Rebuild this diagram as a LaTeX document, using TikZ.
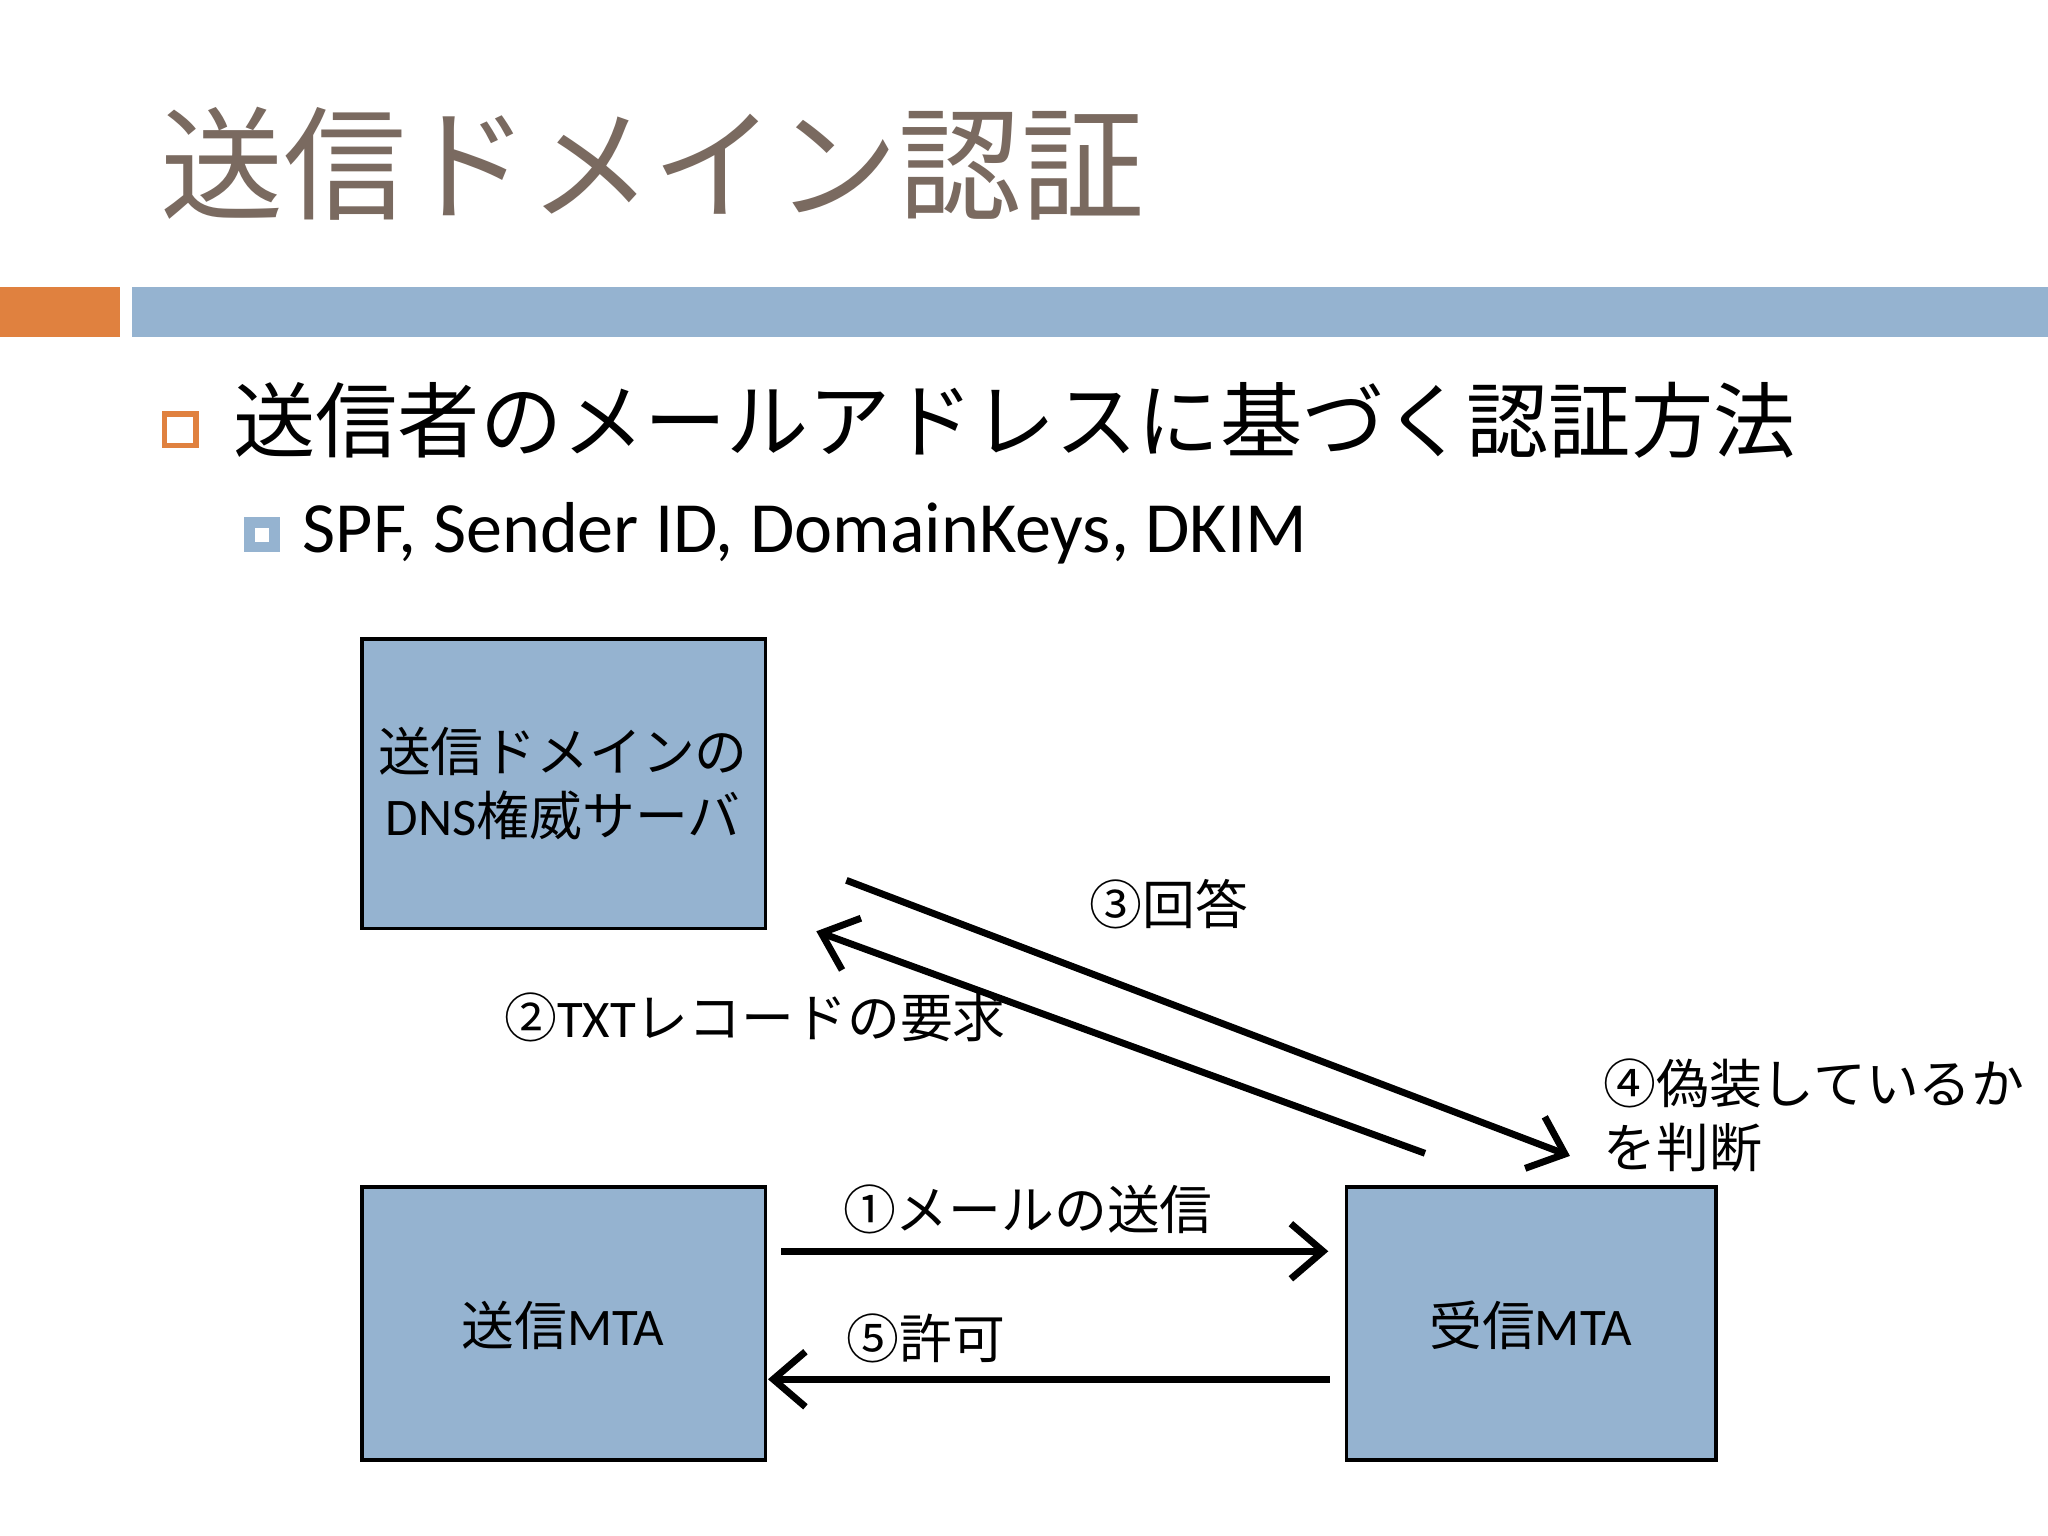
\documentclass[tikz,border=0pt]{standalone}
\usepackage{fontspec}
\setmainfont{Carlito}
\newfontfamily\cjk{Noto Sans CJK JP}
\newfontfamily\lat{Carlito}
\usetikzlibrary{arrows.meta}
\definecolor{boxblue}{HTML}{95B3D0}
\definecolor{accent}{HTML}{E0813F}
\definecolor{titlec}{HTML}{7A6A60}
\begin{document}
\begin{tikzpicture}[x=0.01cm,y=-0.01cm,
  box/.style={draw=black,line width=0.8pt,fill=boxblue},
  arr/.style={line width=1.5pt,-{Straight Barb[length=7pt,width=12pt,line width=1.5pt]}},
  lab/.style={inner sep=0pt,font=\cjk\fontsize{11.5}{14}\selectfont}]
\useasboundingbox (0,0) rectangle (1568,1176);
\fill[white] (0,0) rectangle (1568,1176);
\node[anchor=west,inner sep=0pt,text=titlec,font=\cjk\fontsize{26.8}{30}\selectfont] (title) at (122,125) {送信ドメイン認証};
\fill[accent] (0,220) rectangle (92,258);
\fill[boxblue] (101,220) rectangle (1568,258);
\draw[accent,line width=1.2pt] (126,317) rectangle (150,341);
\node[anchor=west,inner sep=0pt,font=\cjk\fontsize{17.9}{20}\selectfont] (b1) at (178,322) {送信者のメールアドレスに基づく認証方法};
\fill[boxblue] (187,396) rectangle (214,423);
\fill[white] (195,404) rectangle (206,415);
\node[anchor=west,inner sep=0pt,font=\lat\fontsize{15.7}{18}\selectfont] (b2) at (231,408) {SPF, Sender ID, DomainKeys, DKIM};
\draw[box] (277,489) rectangle (586,711);
\node[lab,align=center] (dns) at (431,600) {送信ドメインの\\{\lat DNS}権威サーバ};
\draw[box] (277,909) rectangle (586,1118);
\node[lab] (smta) at (431,1015) {送信{\lat MTA}};
\draw[box] (1031,909) rectangle (1314,1118);
\node[lab] (rmta) at (1172,1015) {受信{\lat MTA}};
\coordinate (a1s) at (598,958); \coordinate (a1e) at (1017,958);
\coordinate (a5s) at (1018,1056); \coordinate (a5e) at (588,1056);
\coordinate (a2s) at (1091,883); \coordinate (a2e) at (625,713);
\coordinate (a3s) at (648,674); \coordinate (a3e) at (1202,885);
\draw[arr] (a1s) -- (a1e);
\draw[arr] (a5s) -- (a5e);
\draw[arr] (a2s) -- (a2e);
\draw[arr] (a3s) -- (a3e);
\node[lab] (l3) at (895,692) {③回答};
\node[lab] (l2) at (578,779) {②{\lat TXT}レコードの要求};
\node[lab,anchor=west,align=left] (l4) at (1227,854) {④偽装しているか\\を判断};
\node[lab] (l1) at (787,926) {①メールの送信};
\node[lab] (l5) at (709,1025) {⑤許可};
\end{tikzpicture}
\end{document}
